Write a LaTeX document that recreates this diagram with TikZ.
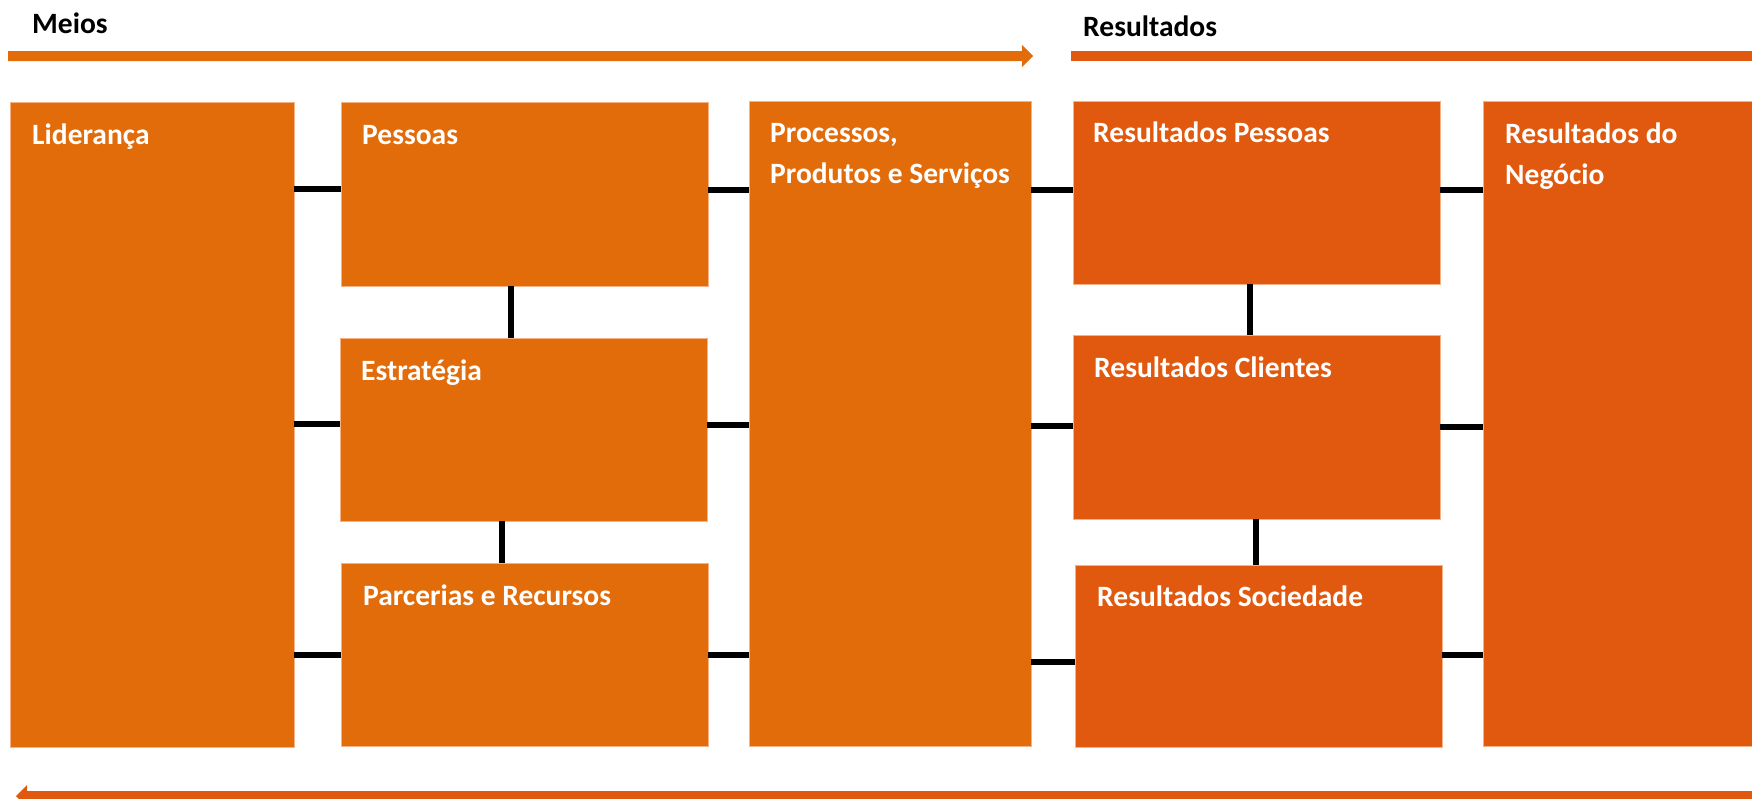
\documentclass[tikz,border=0pt]{standalone}
\usepackage{fontspec}
\setmainfont{Carlito}
\definecolor{meio}{RGB}{227,108,10}
\definecolor{resu}{RGB}{224,89,14}
\definecolor{rim}{RGB}{244,178,134}
\begin{document}
\begin{tikzpicture}[x=1pt,y=-1pt,
  box/.style={rectangle, draw=rim, line width=0.8pt, inner sep=0pt, outer sep=0pt, anchor=north west},
  meiobox/.style={box, fill=meio},
  resbox/.style={box, fill=resu},
  lbl/.style={anchor=base west, inner sep=0pt, text=white, align=left, font=\fontsize{29.5}{41}\selectfont\bfseries},
  hdr/.style={anchor=base west, inner sep=0pt, text=black, font=\fontsize{29.5}{41}\selectfont\bfseries},
  link/.style={line width=6.5pt, black}]
\useasboundingbox (0,0) rectangle (1752,798);
\clip (0,0) rectangle (1752,798);

% headers
\node[hdr] (hmeios) at (32,33) {Meios};
\node[hdr] (hres) at (1083,36) {Resultados};

% top arrow (Meios)
\fill[meio] (8,51) -- (1022,51) -- (1022,45) -- (1033,56) -- (1022,67) -- (1022,61) -- (8,61) -- cycle;
% top line (Resultados)
\fill[resu] (1071,51) rectangle (1760,61);
% bottom arrow
\fill[resu] (1760,791) -- (27,791) -- (27,785) -- (16,796) -- (27,807) -- (27,801) -- (1760,801) -- cycle;

% boxes
\node[meiobox, minimum width=284pt, minimum height=645pt] (lid) at (10,102) {};
\node[meiobox, minimum width=367pt, minimum height=184pt] (pes) at (341,102) {};
\node[meiobox, minimum width=367pt, minimum height=183pt] (est) at (340,338) {};
\node[meiobox, minimum width=367pt, minimum height=183pt] (par) at (341,563) {};
\node[meiobox, minimum width=282pt, minimum height=645pt] (pro) at (749,101) {};
\node[resbox, minimum width=367pt, minimum height=183pt] (rpe) at (1073,101) {};
\node[resbox, minimum width=367pt, minimum height=184pt] (rcl) at (1073,335) {};
\node[resbox, minimum width=367pt, minimum height=182pt] (rso) at (1075,565) {};
\node[resbox, minimum width=300pt, minimum height=645pt] (neg) at (1483,101) {};

% labels (base of multi-line nodes is the last line)
\node[lbl] (tlid) at ([shift={(22,42)}]lid.north west) {Liderança};
\node[lbl] (tpes) at ([shift={(21,42)}]pes.north west) {Pessoas};
\node[lbl] (test) at ([shift={(21,42)}]est.north west) {Estratégia};
\node[lbl] (tpar) at ([shift={(22,42)}]par.north west) {Parcerias e Recursos};
\node[lbl] (tpro) at ([shift={(21,82)}]pro.north west) {Processos,\\Produtos e Serviços};
\node[lbl] (trpe) at ([shift={(20,41)}]rpe.north west) {Resultados Pessoas};
\node[lbl] (trcl) at ([shift={(21,42)}]rcl.north west) {Resultados Clientes};
\node[lbl] (trso) at ([shift={(22,41)}]rso.north west) {Resultados Sociedade};
\node[lbl] (tneg) at ([shift={(22,83)}]neg.north west) {Resultados do\\Negócio};

% connectors
\draw[link] (lid.east |- 0,189) -- (pes.west |- 0,189);
\draw[link] (lid.east |- 0,424) -- (est.west |- 0,424);
\draw[link] (lid.east |- 0,655) -- (par.west |- 0,655);
\draw[link] (pes.east |- 0,190) -- (pro.west |- 0,190);
\draw[link] (est.east |- 0,425) -- (pro.west |- 0,425);
\draw[link] (par.east |- 0,655) -- (pro.west |- 0,655);
\draw[link] (pes.south -| 511,0) -- (est.north -| 511,0);
\draw[link] (est.south -| 502,0) -- (par.north -| 502,0);
\draw[link] (pro.east |- 0,190) -- (rpe.west |- 0,190);
\draw[link] (pro.east |- 0,426) -- (rcl.west |- 0,426);
\draw[link] (pro.east |- 0,662) -- (rso.west |- 0,662);
\draw[link] (rpe.south -| 1250,0) -- (rcl.north -| 1250,0);
\draw[link] (rcl.south -| 1256,0) -- (rso.north -| 1256,0);
\draw[link] (rpe.east |- 0,190) -- (neg.west |- 0,190);
\draw[link] (rcl.east |- 0,427) -- (neg.west |- 0,427);
\draw[link] (rso.east |- 0,655) -- (neg.west |- 0,655);
\end{tikzpicture}
\end{document}
